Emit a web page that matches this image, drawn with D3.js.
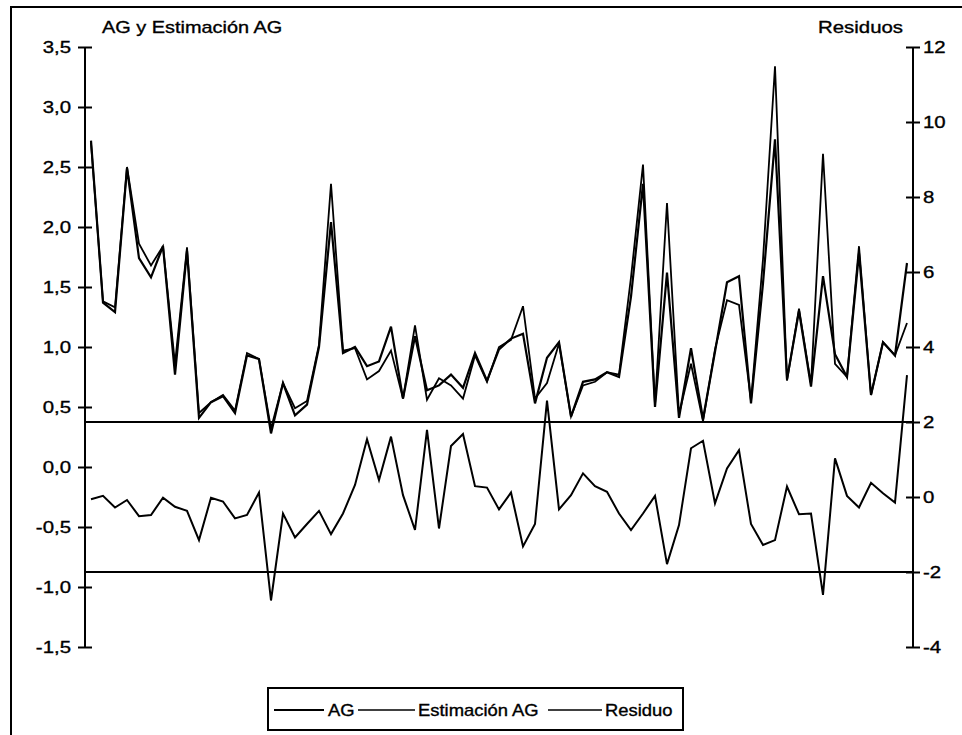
<!DOCTYPE html>
<html>
<head>
<meta charset="utf-8">
<script src="https://cdn.jsdelivr.net/npm/d3@7/dist/d3.min.js"></script>
<style>
  html, body { margin: 0; padding: 0; background: #fff; }
  svg { display: block; }
  text { font-family: "Liberation Sans", Arial, sans-serif; fill: #000; stroke: #000; stroke-width: 0.35px; }
</style>
</head>
<body>
<div id="chart"></div>
<script>
// ---------------- DATA ----------------
const categories = d3.range(1, 70);   // 69 observation periods (no labels shown)

const ag = [2.72, 1.37, 1.29, 2.49, 1.74, 1.58, 1.84, 0.77, 1.80, 0.41,
            0.54, 0.59, 0.45, 0.93, 0.90, 0.28, 0.70, 0.43, 0.52, 1.00,
            2.04, 0.95, 1.00, 0.84, 0.88, 1.17, 0.57, 1.09, 0.64, 0.68,
            0.77, 0.66, 0.95, 0.72, 0.98, 1.07, 1.11, 0.53, 0.91, 1.04,
            0.42, 0.71, 0.73, 0.79, 0.75, 1.42, 2.36, 0.50, 1.62, 0.41,
            0.99, 0.40, 0.96, 1.54, 1.59, 0.53, 1.53, 2.73, 0.73, 1.30,
            0.67, 1.59, 0.94, 0.75, 1.78, 0.60, 1.04, 0.93, 1.70];

const estimacion = [2.70, 1.38, 1.33, 2.50, 1.86, 1.68, 1.84, 0.86, 1.83, 0.45,
                    0.54, 0.60, 0.47, 0.95, 0.90, 0.32, 0.70, 0.49, 0.55, 1.02,
                    2.36, 0.97, 0.99, 0.73, 0.80, 0.97, 0.57, 1.18, 0.56, 0.74,
                    0.68, 0.57, 0.93, 0.71, 1.00, 1.06, 1.34, 0.57, 0.70, 1.03,
                    0.42, 0.68, 0.71, 0.79, 0.77, 1.58, 2.52, 0.52, 2.20, 0.44,
                    0.86, 0.38, 0.98, 1.39, 1.35, 0.55, 1.73, 3.34, 0.72, 1.32,
                    0.69, 2.61, 0.86, 0.75, 1.84, 0.60, 1.04, 0.93, 1.20];

const residuo = [-0.06, 0.03, -0.28, -0.08, -0.51, -0.48, -0.02, -0.26, -0.37, -1.15,
                 -0.02, -0.12, -0.57, -0.48, 0.12, -2.76, -0.44, -1.08, -0.72, -0.37,
                 -0.99, -0.44, 0.32, 1.54, 0.45, 1.61, 0.05, -0.88, 1.79, -0.84,
                 1.36, 1.68, 0.29, 0.25, -0.33, 0.12, -1.32, -0.72, 2.57, -0.33,
                 0.05, 0.63, 0.29, 0.14, -0.44, -0.88, -0.44, 0.03, -1.79, -0.75,
                 1.30, 1.50, -0.17, 0.76, 1.25, -0.72, -1.28, -1.15, 0.28, -0.46,
                 -0.44, -2.61, 1.03, 0.03, -0.28, 0.38, 0.10, -0.15, 3.25];

const leftTicks  = [-1.5, -1.0, -0.5, 0.0, 0.5, 1.0, 1.5, 2.0, 2.5, 3.0, 3.5];
const rightTicks = [-4, -2, 0, 2, 4, 6, 8, 10, 12];
const refLines   = [2, -2];   // residual bands
const seriesNames = ["AG", "Estimación AG", "Residuo"];
const leftTitle  = "AG y Estimación AG";
const rightTitle = "Residuos";

// ---------------- LAYOUT ----------------
const W = 962, H = 735;
const xL = 85, xR = 913, yTop = 47, yBot = 647;
const SX = 1.2;   // horizontal stretch of the scanned lettering
const FS = 17;

const svg = d3.select("#chart").append("svg")
  .attr("width", W).attr("height", H);

// outer frame (left + top edges visible)
svg.append("path")
  .attr("d", `M11,735 V7 H962`)
  .attr("fill", "none").attr("stroke", "#000").attr("stroke-width", 2);

const x = d3.scalePoint().domain(categories).range([xL, xR]).padding(0.5);
const yLeft = d3.scaleLinear().domain([-1.5, 3.5]).range([yBot, yTop]);
const yRight = d3.scaleLinear().domain([-4, 12]).range([yBot, yTop]);

const fmt = v => d3.format(".1f")(v).replace(".", ",").replace("\u2212", "-");

// left axis
const gL = svg.append("g").attr("transform", `translate(${xL},0)`)
  .call(d3.axisLeft(yLeft).tickValues(leftTicks).tickFormat(fmt).tickSize(7).tickPadding(0));
gL.select(".domain").attr("stroke-width", 2).attr("d", `M0,${yTop}V${yBot}`);
gL.selectAll(".tick line").attr("x1", -7).attr("x2", 7).attr("stroke-width", 2);
gL.selectAll(".tick text")
  .attr("x", 0).attr("dy", "0.35em")
  .attr("transform", `translate(-14,0) scale(${SX},1)`)
  .style("font-size", FS + "px").style("font-family", "Liberation Sans, Arial, sans-serif")
  .attr("text-anchor", "end");

// right axis
const gR = svg.append("g").attr("transform", `translate(${xR},0)`)
  .call(d3.axisRight(yRight).tickValues(rightTicks).tickFormat(d => String(d)).tickSize(7).tickPadding(0));
gR.select(".domain").attr("stroke-width", 2).attr("d", `M0,${yTop}V${yBot}`);
gR.selectAll(".tick line").attr("x1", -7).attr("x2", 7).attr("stroke-width", 2);
gR.selectAll(".tick text")
  .attr("x", 0).attr("dy", "0.35em")
  .attr("transform", `translate(10,0) scale(${SX},1)`)
  .style("font-size", FS + "px").style("font-family", "Liberation Sans, Arial, sans-serif")
  .attr("text-anchor", "start");

// axis titles
svg.append("text").text(leftTitle)
  .attr("transform", `translate(102,33) scale(1.17,1)`)
  .style("font-size", FS + "px");
svg.append("text").text(rightTitle)
  .attr("text-anchor", "end")
  .attr("transform", `translate(903,33) scale(${SX},1)`)
  .style("font-size", FS + "px");

// reference lines on residual axis
svg.selectAll(".ref").data(refLines).enter().append("line")
  .attr("x1", xL).attr("x2", xR)
  .attr("y1", d => yRight(d)).attr("y2", d => yRight(d))
  .attr("stroke", "#000").attr("stroke-width", 2);

// series lines
const lineL = d3.line().x((d, i) => x(categories[i])).y(d => yLeft(d));
const lineR = d3.line().x((d, i) => x(categories[i])).y(d => yRight(d));

svg.append("path").datum(estimacion).attr("d", lineL)
  .attr("fill", "none").attr("stroke", "#000").attr("stroke-width", 1.8)
  .attr("stroke-linejoin", "miter");
svg.append("path").datum(ag).attr("d", lineL)
  .attr("fill", "none").attr("stroke", "#000").attr("stroke-width", 2.2)
  .attr("stroke-linejoin", "miter");
svg.append("path").datum(residuo).attr("d", lineR)
  .attr("fill", "none").attr("stroke", "#000").attr("stroke-width", 2)
  .attr("stroke-linejoin", "miter");

// legend
const lg = svg.append("g");
lg.append("rect").attr("x", 268).attr("y", 688).attr("width", 415).attr("height", 42)
  .attr("fill", "#fff").attr("stroke", "#000").attr("stroke-width", 2);
const legendPos = [{l1: 274, l2: 324, t: 328}, {l1: 358, l2: 415, t: 418}, {l1: 548, l2: 602, t: 605}];
const legendWidths = [1.8, 1.4, 1.6];
seriesNames.forEach((name, i) => {
  const p = legendPos[i];
  lg.append("line").attr("x1", p.l1).attr("x2", p.l2).attr("y1", 710).attr("y2", 710)
    .attr("stroke", "#000").attr("stroke-width", legendWidths[i]);
  lg.append("text").text(name)
    .attr("transform", `translate(${p.t},716) scale(1.15,1)`)
    .style("font-size", "16px");
});
</script>
</body>
</html>
